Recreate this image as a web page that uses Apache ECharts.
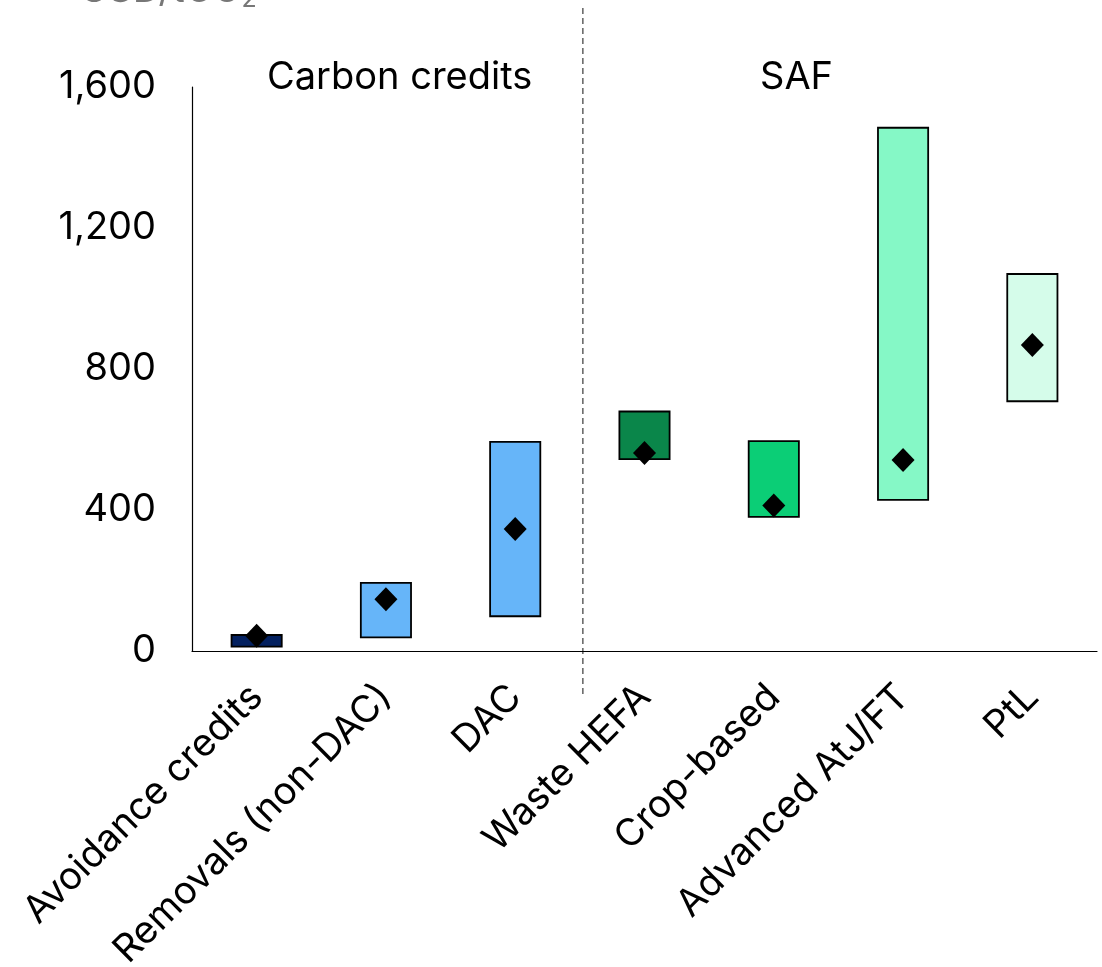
<!DOCTYPE html>
<html><head><meta charset="utf-8">
<script src="https://cdn.jsdelivr.net/npm/echarts@6/dist/echarts.min.js"></script>
<style>html,body{margin:0;padding:0;background:#fff}#c{width:1102px;height:967px}</style>
</head><body><div id="c"></div>
<script>
const categories = ['Avoidance credits','Removals (non-DAC)','DAC','Waste HEFA','Crop-based','Advanced AtJ/FT','PtL'];
const lowValues  = [10, 36, 96, 542, 378, 426, 706];
const highValues = [48, 196, 596, 682, 598, 1487, 1072];
const midValues  = [43, 147, 346, 562, 413, 542, 868];
const barColors  = ['#03205F','#66B5F9','#66B5F9','#0A864A','#0BCE76','#85F8C6','#D5FCEA'];
const yTicks = [0, 400, 800, 1200, 1600];
const groupLabels = ['Carbon credits','SAF'];
const unitLabel = 'USD/tCO';

const FONT = 'Inter';
const FS = 38;
const chart = echarts.init(document.getElementById('c'));
chart.setOption({
  animation: false,
  textStyle: {fontFamily: FONT},
  grid: {left: 192, right: 5, top: 87, bottom: 316, containLabel: false, outerBoundsMode: 'none'},
  xAxis: {
    type: 'category', data: categories,
    axisLine: {lineStyle: {color: '#000', width: 1.2}},
    axisTick: {show: false},
    axisLabel: {rotate: 45, fontSize: FS, color: '#000', margin: 40, interval: 0, fontFamily: FONT}
  },
  yAxis: {
    type: 'value', min: yTicks[0], max: yTicks[yTicks.length-1], interval: 400,
    axisLine: {show: true, lineStyle: {color: '#000', width: 1.2}},
    axisTick: {show: false},
    splitLine: {show: false},
    axisLabel: {fontSize: FS, color: '#000', margin: 36, fontFamily: FONT,
      formatter: v => v.toLocaleString('en-US')}
  },
  series: [
    {type: 'bar', stack: 'r', barWidth: 52, silent: true,
     itemStyle: {color: 'transparent'}, data: lowValues},
    {type: 'bar', stack: 'r', barWidth: 52,
     data: highValues.map((h, i) => ({value: h - lowValues[i],
        itemStyle: {color: barColors[i], borderColor: '#000', borderWidth: 1.8}}))},
    {type: 'scatter', symbol: 'diamond', symbolSize: [23, 24], z: 5,
     itemStyle: {color: '#000', opacity: 1}, data: midValues}
  ]
});

const xa = chart.convertToPixel({xAxisIndex: 0}, categories[2]);
const xb = chart.convertToPixel({xAxisIndex: 0}, categories[3]);
const sepX = (xa + xb) / 2 + 3;
chart.setOption({
  graphic: [
    {type: 'line', shape: {x1: sepX, y1: 8, x2: sepX, y2: 697},
     style: {stroke: '#555', lineWidth: 1.4, lineDash: [6, 4]}},
    {type: 'text', left: 267, top: 59,
     style: {text: groupLabels[0], fontSize: FS, fill: '#000', fontFamily: FONT}},
    {type: 'text', left: 760, top: 59,
     style: {text: groupLabels[1], fontSize: FS, fill: '#000', fontFamily: FONT}},
    {type: 'text', left: 80, top: -28,
     style: {text: '{a|' + unitLabel + '}{s|2}', fill: '#777', fontFamily: FONT,
       rich: {a: {fontSize: FS, fill: '#777', fontFamily: FONT},
              s: {fontSize: 25, fill: '#777', fontFamily: FONT, padding: [16, 0, 0, 0]}}}}
  ]
});
</script></body></html>
